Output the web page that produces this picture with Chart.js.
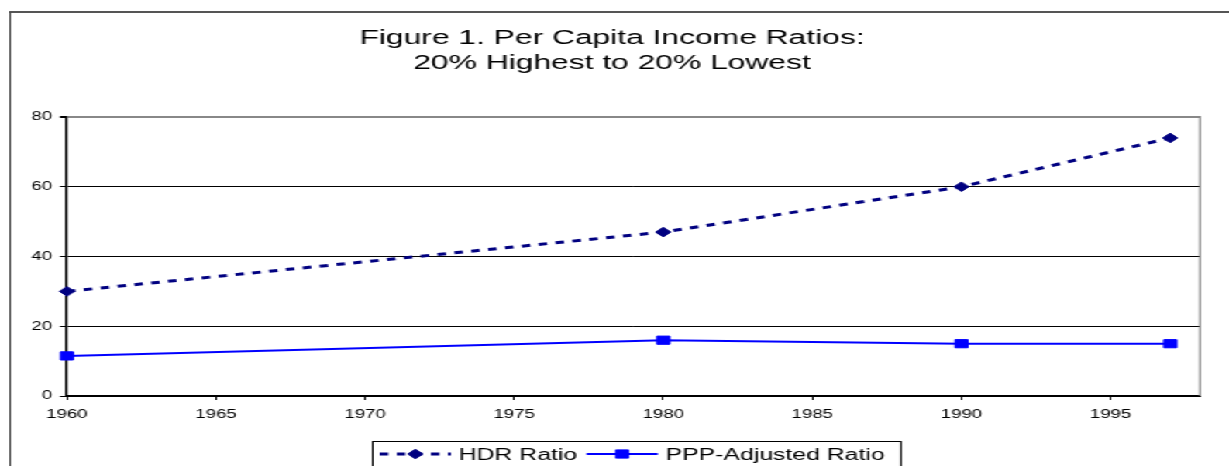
<!DOCTYPE html>
<html>
<head>
<meta charset="utf-8">
<script src="https://cdn.jsdelivr.net/npm/chart.js@4.4.1/dist/chart.umd.min.js"></script>
<style>
    html, body { margin: 0; padding: 0; background: #fff; overflow: hidden; }
    /* the original picture is stretched sideways, so the chart is drawn narrow and scaled */
    #wrap { position: relative; width: 793px; height: 466px; transform: scaleX(1.5498); transform-origin: 0 0; }
    #frame { position: absolute; left: 6px; top: 11px; width: 900px; height: 470px; border-left: 1.3px solid #444; border-top: 2px solid #555; }
    #myChart { position: absolute; left: 0; top: 0; }
</style>
</head>
<body>
<div id="wrap">
    <div id="frame"></div>
    <canvas id="myChart" width="793" height="466"></canvas>
</div>
<script>
    "use strict";

    const years = [1960, 1980, 1990, 1997];
    const hdrRatio = [30, 47, 60, 74];
    const pppRatio = [11.5, 16, 15, 15];
    const xTicks = [1960, 1965, 1970, 1975, 1980, 1985, 1990, 1995];
    const yTicks = [0, 20, 40, 60, 80];
    const titulo = ['Figure 1. Per Capita Income Ratios:', '20% Highest to 20% Lowest'];
    const series = ['HDR Ratio', 'PPP-Adjusted Ratio'];

    const fuente = '"Liberation Sans", Arial, sans-serif';

    function puntos(valores) {
        return years.map((x, i) => ({x: x, y: valores[i]}));
    }

    function marcador(ctx, d, x, y) {
        let r = d.pointRadius;
        ctx.fillStyle = d.backgroundColor;
        ctx.strokeStyle = d.borderColor;
        ctx.lineWidth = 1;
        ctx.beginPath();
        if (d.pointStyle === 'rectRot') {
            ctx.moveTo(x, y - r);
            ctx.lineTo(x + r, y);
            ctx.lineTo(x, y + r);
            ctx.lineTo(x - r, y);
            ctx.closePath();
        } else {
            let s = r * Math.SQRT1_2;
            ctx.rect(x - s, y - s, 2 * s, 2 * s);
        }
        ctx.fill();
        ctx.stroke();
    }

    // gray border on the right side of the plot area
    const bordePlot = {
        id: 'bordePlot',
        beforeDatasetsDraw(chart) {
            const a = chart.chartArea;
            const ctx = chart.ctx;
            ctx.save();
            ctx.strokeStyle = '#888';
            ctx.lineWidth = 1.3;
            ctx.beginPath();
            ctx.moveTo(a.right, a.top - 1);
            ctx.lineTo(a.right, a.bottom);
            ctx.stroke();
            ctx.restore();
        }
    };

    // excel style legend in a box under the axis
    const leyenda = {
        id: 'leyenda',
        afterDraw(chart) {
            const ctx = chart.ctx;
            const ds = chart.data.datasets;
            const left = 240, top = 441, yMid = 454, base = 459.5, muestra = 46;
            ctx.save();
            ctx.font = '16px ' + fuente;
            let x = left + 5;
            ds.forEach((d, i) => {
                ctx.strokeStyle = d.borderColor;
                ctx.lineWidth = d.borderWidth;
                ctx.setLineDash(d.borderDash || []);
                ctx.beginPath();
                ctx.moveTo(x, yMid);
                ctx.lineTo(x + muestra, yMid);
                ctx.stroke();
                ctx.setLineDash([]);
                marcador(ctx, d, x + muestra / 2, yMid);
                x += muestra + 5;
                ctx.fillStyle = '#000';
                ctx.fillText(d.label, x, base);
                x += ctx.measureText(d.label).width;
                if (i < ds.length - 1) {
                    x += 6;
                }
            });
            ctx.strokeStyle = '#000';
            ctx.lineWidth = 1;
            ctx.strokeRect(left + 0.5, top + 0.5, x + 10 - left, 40);
            ctx.restore();
        }
    };

    const ctx = document.getElementById('myChart').getContext('2d');
    const myChart = new Chart(ctx, {
        type: 'line',
        data: {
            datasets: [{
                label: series[0],
                data: puntos(hdrRatio),
                borderColor: '#000080',
                backgroundColor: '#000080',
                borderWidth: 3,
                borderDash: [5.5, 5.5],
                pointStyle: 'rectRot',
                pointRadius: 4.8,
                pointBorderWidth: 1,
                tension: 0,
                clip: false
            }, {
                label: series[1],
                data: puntos(pppRatio),
                borderColor: '#0000FF',
                backgroundColor: '#0000FF',
                borderWidth: 2,
                pointStyle: 'rect',
                pointRadius: 5.8,
                pointBorderWidth: 1,
                tension: 0,
                clip: false
            }]
        },
        options: {
            responsive: false,
            animation: false,
            layout: {
                padding: {left: 15.5, right: 18.7, top: 12, bottom: 0}
            },
            plugins: {
                legend: {display: false},
                tooltip: {enabled: false},
                title: {
                    display: true,
                    text: titulo,
                    color: '#000',
                    font: {family: fuente, size: 20.5, weight: 'normal', lineHeight: 1.2},
                    padding: {top: 14, bottom: 41.8}
                }
            },
            scales: {
                x: {
                    type: 'linear',
                    min: 1960,
                    max: 1998,
                    afterBuildTicks: (s) => {
                        s.ticks = xTicks.map(v => ({value: v}));
                    },
                    afterFit: (s) => {
                        s.height = 70;
                    },
                    ticks: {
                        color: '#000',
                        font: {family: fuente, size: 12},
                        padding: 7,
                        maxRotation: 0,
                        autoSkip: false,
                        callback: (v) => String(v)
                    },
                    grid: {
                        drawOnChartArea: false,
                        drawTicks: true,
                        tickLength: 4,
                        tickColor: '#000',
                        tickWidth: 1
                    },
                    border: {color: '#000', width: 2}
                },
                y: {
                    min: 0,
                    max: 80,
                    afterBuildTicks: (s) => {
                        s.ticks = yTicks.map(v => ({value: v}));
                    },
                    afterFit: (s) => {
                        s.width = 27.7;
                    },
                    ticks: {
                        color: '#000',
                        font: {family: fuente, size: 12},
                        padding: 5
                    },
                    grid: {
                        color: (c) => c.tick && c.tick.value === 80 ? '#888' : '#000',
                        lineWidth: (c) => c.tick && c.tick.value === 80 ? 2 : 1,
                        tickLength: 4.5,
                        tickColor: '#000'
                    },
                    border: {color: '#000', width: 1.5}
                }
            }
        },
        plugins: [bordePlot, leyenda]
    });
</script>
</body>
</html>
